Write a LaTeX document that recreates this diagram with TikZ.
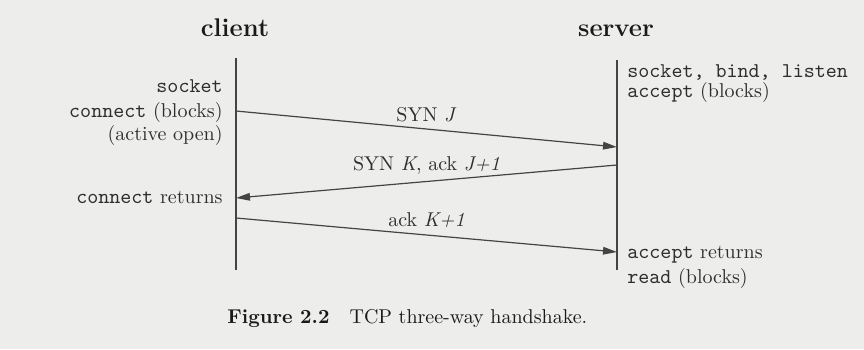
\documentclass[tikz,border=0pt]{standalone}
\usetikzlibrary{arrows.meta}

% typewriter names of the calls, serif for the rest
\newcommand{\callname}[1]{{\fontsize{10.5}{12}\ttfamily #1}}

\begin{document}
\begin{tikzpicture}[
    x=0.5pt, y=-0.5pt,
    >={Triangle[length=7pt,width=3.8pt]},
]

% ── Colors ──
\definecolor{paper}{HTML}{EDEDEB}
\definecolor{ink}{HTML}{2E2E2E}
\definecolor{headink}{HTML}{1A1A1A}
\definecolor{lineink}{HTML}{444444}

\fill[paper] (0,0) rectangle (864,349);
\useasboundingbox (0,0) rectangle (864,349);

% ══════════════════════════════════════════════
% Headings and timelines
% ══════════════════════════════════════════════
\node[font=\fontsize{12.8}{15}\selectfont\bfseries, text=headink, anchor=base]
    (client) at (235,36) {client};
\node[font=\fontsize{12.8}{15}\selectfont\bfseries, text=headink, anchor=base]
    (server) at (616,36) {server};

\coordinate (ctop) at (236,58);
\coordinate (cbot) at (236,270);
\coordinate (stop) at (617,60);
\coordinate (sbot) at (617,270);
\draw[lineink, line width=0.6pt] (ctop) -- (cbot);
\draw[lineink, line width=0.6pt] (stop) -- (sbot);

% ══════════════════════════════════════════════
% Client side calls
% ══════════════════════════════════════════════
\node[font=\fontsize{10}{12}\selectfont, text=ink, inner sep=0pt, anchor=base east]
    (csock) at (223,92) {\callname{socket}};
\node[font=\fontsize{10}{12}\selectfont, text=ink, inner sep=0pt, anchor=base east]
    (cconn) at (223,117) {\callname{connect} (blocks)};
\node[font=\fontsize{10}{12}\selectfont, text=ink, inner sep=0pt, anchor=base east]
    (copen) at (223,140) {(active open)};
\node[font=\fontsize{10}{12}\selectfont, text=ink, inner sep=0pt, anchor=base east]
    (cret) at (223,203) {\callname{connect} returns};

% ══════════════════════════════════════════════
% Server side calls
% ══════════════════════════════════════════════
\node[font=\fontsize{10}{12}\selectfont, text=ink, inner sep=0pt, anchor=base west]
    (slisten) at (627,77) {\callname{socket, bind, listen}};
\node[font=\fontsize{10}{12}\selectfont, text=ink, inner sep=0pt, anchor=base west]
    (saccept) at (627,97) {\callname{accept} (blocks)};
\node[font=\fontsize{10}{12}\selectfont, text=ink, inner sep=0pt, anchor=base west]
    (sret) at (627,258) {\callname{accept} returns};
\node[font=\fontsize{10}{12}\selectfont, text=ink, inner sep=0pt, anchor=base west]
    (sread) at (627,283) {\callname{read} (blocks)};

% ══════════════════════════════════════════════
% Segments exchanged
% ══════════════════════════════════════════════
\coordinate (csyn) at (236,111);
\coordinate (ssyn) at (617,147);
\coordinate (ssynack) at (617,165);
\coordinate (csynack) at (236,198);
\coordinate (cack) at (236,218);
\coordinate (sack) at (617,252);

\draw[->, lineink, line width=0.6pt] (csyn) -- (ssyn)
    node[midway, above=0pt, font=\fontsize{10}{12}\selectfont, text=ink] {SYN \textit{J}};
\draw[->, lineink, line width=0.6pt] (ssynack) -- (csynack)
    node[midway, above=0pt, font=\fontsize{10}{12}\selectfont, text=ink] {SYN \textit{K}, ack \textit{J+1}};
\draw[->, lineink, line width=0.6pt] (cack) -- (sack)
    node[midway, above=0pt, font=\fontsize{10}{12}\selectfont, text=ink] {ack \textit{K+1}};

% ══════════════════════════════════════════════
% Caption
% ══════════════════════════════════════════════
\node[font=\fontsize{10}{12}\selectfont, text=headink, inner sep=0pt, anchor=base west]
    (caption) at (227,323) {\textbf{Figure 2.2}\quad TCP three-way handshake.};

\end{tikzpicture}
\end{document}
